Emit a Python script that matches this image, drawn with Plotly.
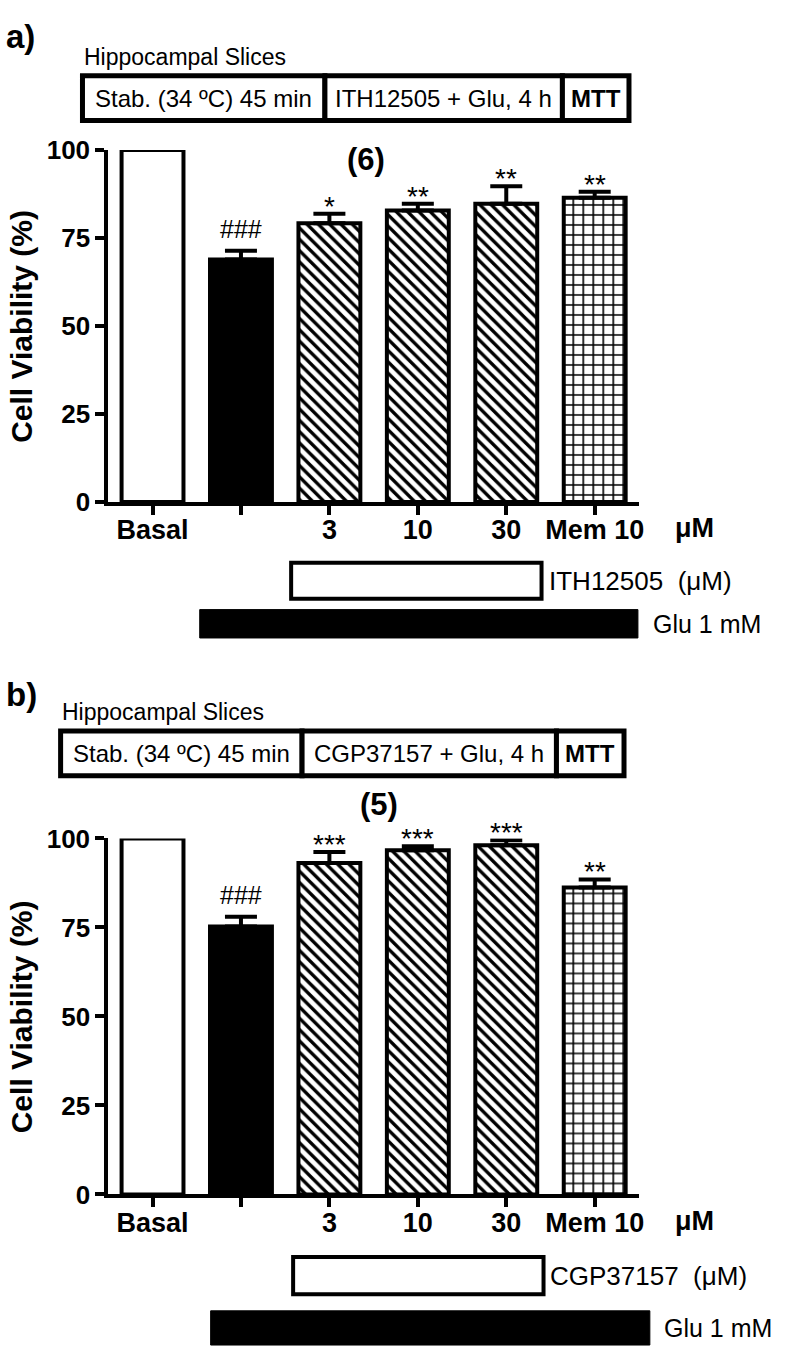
import plotly.graph_objects as go

W, H = 788, 1362

# ---------------- data ----------------
categories = ["Basal", "Glu", "3", "10", "30", "Mem 10"]
tick_labels = ["Basal", "", "3", "10", "30", "Mem 10"]

viab_a = [100, 68.9, 79.2, 82.8, 84.7, 86.4]
err_a = [None, 2.5, 2.7, 1.9, 5.0, 1.7]
sig_a = ["", "###", "*", "**", "**", "**"]

viab_b = [100, 75.3, 93.1, 96.7, 98.1, 86.2]
err_b = [None, 2.7, 3.1, 1.1, 1.4, 2.3]
sig_b = ["", "###", "***", "***", "***", "**"]

y_ticks = [0, 25, 50, 75, 100]

FONT = "Liberation Sans, Arial, sans-serif"

# bar style groups: (indices, fill colour, pattern shape, tile size, solidity)
styles = [
    ([0], "white", "", 8, 0.3),
    ([1], "black", "", 8, 0.3),
    ([2, 3, 4], "white", "\\", 8, 0.42),
    ([5], "white", "+", 10, 0.3),
]


def px(x):
    return x / W


def py(y):
    return 1 - y / H


fig = go.Figure()


def add_bars(vals, errs, xa, ya):
    for idx, col, shape, size, sol in styles:
        e = [errs[i] for i in idx]
        marker = dict(color=col, line=dict(color="black", width=4))
        if shape:
            marker["pattern"] = dict(shape=shape, size=size, solidity=sol,
                                     fgcolor="black", bgcolor=col,
                                     fillmode="replace")
        fig.add_trace(go.Bar(
            x=idx, y=[vals[i] for i in idx],
            xaxis=xa, yaxis=ya, width=0.7,
            marker=marker,
            error_y=dict(type="data", symmetric=False, array=e,
                         arrayminus=[0] * len(e), color="black",
                         thickness=4, width=16,
                         visible=any(v is not None for v in e)),
            showlegend=False, hoverinfo="skip", cliponaxis=False,
        ))


add_bars(viab_a, err_a, "x", "y")
add_bars(viab_b, err_b, "x2", "y2")

xdom = [px(109), px(643)]
axis_common = dict(showline=True, linecolor="black", linewidth=4,
                   ticks="outside", tickwidth=4, tickcolor="black",
                   showgrid=False, zeroline=False)

xaxis_cfg = dict(domain=xdom, range=[-0.5, 5.5], tickmode="array",
                 tickvals=list(range(len(categories))), ticktext=tick_labels,
                 ticklen=9, ticklabelstandoff=-8,
                 tickfont=dict(family=FONT, size=27, color="black", weight=700),
                 **axis_common)
yaxis_common = dict(range=[0, 100], tickmode="array", tickvals=y_ticks,
                    ticklen=9,
                    tickfont=dict(family=FONT, size=26, color="black", weight=700),
                    **axis_common)

fig.update_layout(
    width=W, height=H, autosize=False,
    margin=dict(l=0, r=0, t=0, b=0),
    paper_bgcolor="white", plot_bgcolor="white",
    barmode="overlay",
    xaxis=dict(anchor="y", **xaxis_cfg),
    yaxis=dict(anchor="x", domain=[py(498), py(138)], **yaxis_common),
    xaxis2=dict(anchor="y2", **xaxis_cfg),
    yaxis2=dict(anchor="x2", domain=[py(1206), py(842)], **yaxis_common),
)

shapes = []
annots = []


def text(x, y, s, size, bold=False, xanchor="center", yanchor="middle",
         angle=0):
    annots.append(dict(
        x=px(x), y=py(y), xref="paper", yref="paper", text=s,
        showarrow=False, xanchor=xanchor, yanchor=yanchor, textangle=angle,
        font=dict(family=FONT, size=size, color="black",
                  weight=700 if bold else 400)))


def rect(x0, y0, x1, y1, fill="white", lw=4):
    shapes.append(dict(type="rect", xref="paper", yref="paper",
                       x0=px(x0), x1=px(x1), y0=py(y1), y1=py(y0),
                       fillcolor=fill, line=dict(color="black", width=lw)))


def panel(top, label, hx, box, box_texts, drug_box, drug_label, glu_box,
          glu_label_x, n_label, ax_y0, ax_y100, vals, errs, sigs, xaxis, yaxis):
    text(4, top + 22, label, 33, bold=True, xanchor="left")
    text(hx, box["hy"], "Hippocampal Slices", 23, xanchor="left")
    x0, x1, x2, x3 = box["x"]
    y0, y1 = box["y"]
    rect(x0, y0, x1, y1, lw=5)
    rect(x1, y0, x2, y1, lw=5)
    rect(x2, y0, x3, y1, lw=5)
    yc = (y0 + y1) / 2
    text((x0 + x1) / 2, yc, box_texts[0], 24)
    text((x1 + x2) / 2, yc, box_texts[1], 24)
    text((x2 + x3) / 2, yc, box_texts[2], 24, bold=True)
    text(n_label[0], n_label[1], n_label[2], 31, bold=True)
    text(22, (ax_y0 + ax_y100) / 2, "Cell Viability (%)", 30, bold=True,
         angle=-90)
    text(699, ax_y0 + 27, "\u03bcM", 27, bold=True)
    rect(*drug_box, fill="white", lw=4)
    text(drug_box[2] + 5, (drug_box[1] + drug_box[3]) / 2, drug_label, 26,
         xanchor="left")
    rect(*glu_box, fill="black", lw=1)
    text(glu_label_x, (glu_box[1] + glu_box[3]) / 2, "Glu 1 mM", 25,
         xanchor="left")
    for i, s in enumerate(sigs):
        if not s:
            continue
        top_val = vals[i] + (errs[i] or 0)
        is_hash = s.startswith("#")
        annots.append(dict(
            x=i, y=top_val, xref=xaxis, yref=yaxis, text=s, showarrow=False,
            xanchor="center", yanchor="bottom",
            yshift=6 if is_hash else -10,
            font=dict(family=FONT, size=25 if is_hash else 28, color="black")))


panel(0, "a)", 83, dict(x=[83, 327, 566, 633], y=[62, 108], hy=43),
      ["Stab. (34 \u00baC) 45 min", "ITH12505 + Glu, 4 h", "MTT"],
      (293, 560, 545, 597), "ITH12505  (\u03bcM)", (201, 608, 642, 637), 655,
      (368, 148, "(6)"), 498, 138, viab_a, err_a, sig_a, "x", "y")

panel(673, "b)", 60, dict(x=[61, 304, 560, 628], y=[732, 778], hy=713),
      ["Stab. (34 \u00baC) 45 min", "CGP37157 + Glu, 4 h", "MTT"],
      (295, 1270, 547, 1308), "CGP37157  (\u03bcM)", (212, 1325, 654, 1360), 666,
      (381, 807, "(5)"), 1206, 842, viab_b, err_b, sig_b, "x2", "y2")

fig.update_layout(shapes=shapes, annotations=annots)

fig.write_html(
    "out.html",
    config={"displayModeBar": False},
    post_script="document.body.style.margin='0';"
                "document.body.style.overflow='hidden';",
)
